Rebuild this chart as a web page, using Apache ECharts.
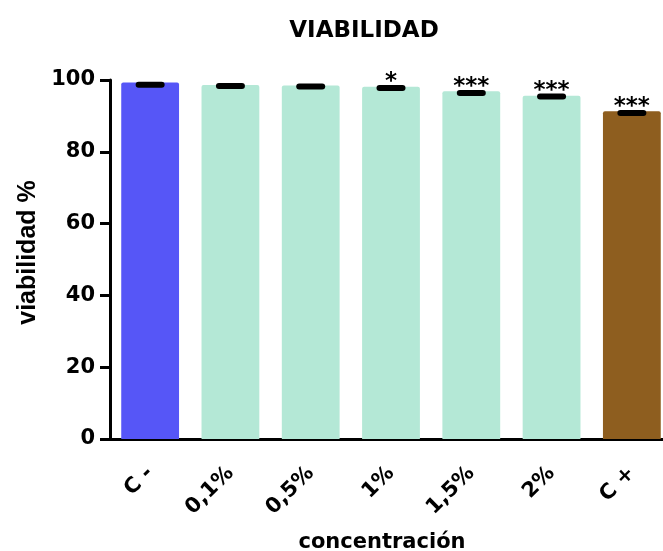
<!DOCTYPE html>
<html>
<head>
<meta charset="utf-8">
<script src="https://cdn.jsdelivr.net/npm/echarts@6/dist/echarts.min.js"></script>
<style>
  html, body { margin: 0; padding: 0; background: #fff; }
  #chart { width: 663px; height: 551px; }
</style>
</head>
<body>
<div id="chart"></div>
<script>
// Cell viability per concentration
const categories = ['C -', '0,1%', '0,5%', '1%', '1,5%', '2%', 'C +'];
const viability = [99.3, 98.6, 98.5, 98.1, 96.9, 95.6, 91.3];
const errorCap = [98.7, 98.3, 98.2, 97.8, 96.4, 95.4, 90.8];
const significance = ['', '', '', '*', '***', '***', '***'];
const barColors = ['#5656F7', '#B4E8D6', '#B4E8D6', '#B4E8D6', '#B4E8D6', '#B4E8D6', '#8E5E1F'];
const yTicks = [0, 20, 40, 60, 80, 100];

const WIDE = '"DejaVu Sans", sans-serif';
const ARIAL = '"Liberation Sans", Arial, sans-serif';
const chart = echarts.init(document.getElementById('chart'));

chart.setOption({
  animation: false,
  title: {
    text: 'VIABILIDAD',
    left: 359,
    top: 15,
    textAlign: 'center',
    textStyle: { fontFamily: WIDE, fontWeight: 'bold', fontSize: 23, color: '#000' }
  },
  grid: { left: 110, width: 562, top: 80, bottom: 112, outerBoundsMode: 'none', containLabel: false },
  xAxis: {
    type: 'category',
    data: categories,
    name: 'concentración',
    nameLocation: 'middle',
    nameGap: 93,
    nameTextStyle: { fontFamily: WIDE, fontWeight: 'bold', fontSize: 21, color: '#000', padding: [0, 0, 0, -18] },
    axisLine: { lineStyle: { color: '#000', width: 3 } },
    axisTick: { alignWithLabel: true, length: 10, lineStyle: { color: '#000', width: 3 } },
    axisLabel: {
      rotate: 45, margin: 31, interval: 0,
      fontFamily: WIDE, fontWeight: 'bold', fontSize: 21, color: '#000'
    }
  },
  yAxis: {
    type: 'value',
    min: 0, max: 100, interval: 20,
    name: 'viabilidad %',
    nameLocation: 'middle',
    nameGap: 68,
    nameTextStyle: { fontFamily: ARIAL, fontWeight: 'bold', fontSize: 25, color: '#000', padding: [0, 0, 0, 14] },
    axisLine: { show: true, lineStyle: { color: '#000', width: 3 } },
    axisTick: { show: true, length: 10, lineStyle: { color: '#000', width: 3 } },
    axisLabel: {
      margin: 15,
      fontFamily: WIDE, fontWeight: 'bold', fontSize: 21, color: '#000',
      formatter: v => yTicks.includes(v) ? String(v) : ''
    },
    splitLine: { show: false }
  },
  series: [
    {
      type: 'bar',
      barCategoryGap: '28%',
      data: viability.map((v, i) => ({ value: v, itemStyle: { color: barColors[i], borderRadius: [2, 2, 0, 0] } })),
      z: 2
    },
    {
      type: 'custom',
      z: 5,
      data: errorCap.map((v, i) => [i, v, significance[i]]),
      renderItem: function (params, api) {
        const p = api.coord([api.value(0), api.value(1)]);
        const label = api.value(2);
        const children = [{
          type: 'rect',
          shape: { x: p[0] - 14.5, y: p[1] - 3, width: 29, height: 6, r: 3 },
          style: { fill: '#000' }
        }];
        if (label) {
          children.push({
            type: 'text',
            style: {
              text: label, x: p[0], y: p[1] + 6,
              textAlign: 'center', textVerticalAlign: 'bottom',
              font: 'bold 23px ' + WIDE, fill: '#000'
            }
          });
        }
        return { type: 'group', children: children };
      }
    }
  ]
});
</script>
</body>
</html>
